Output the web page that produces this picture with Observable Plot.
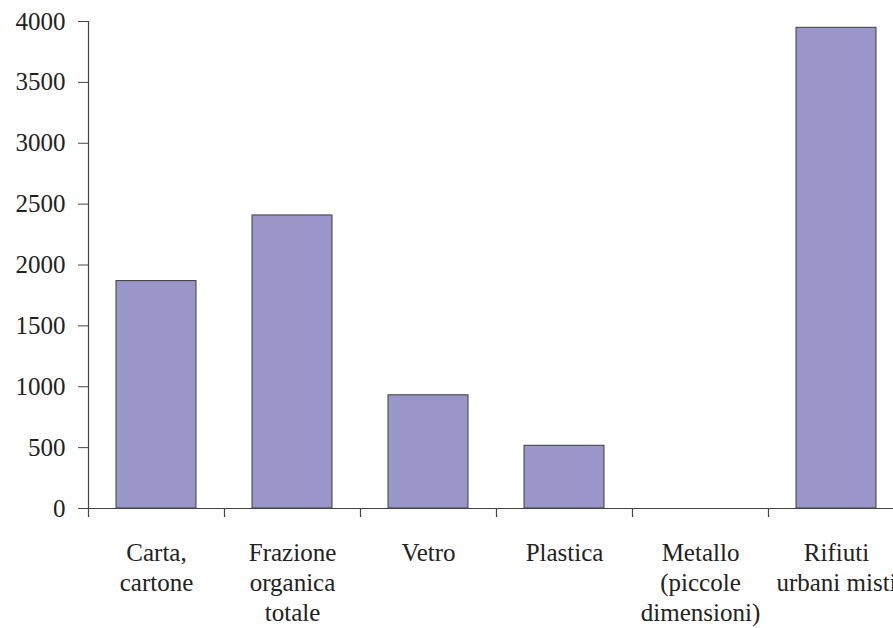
<!DOCTYPE html>
<html>
<head>
<meta charset="utf-8">
<script src="https://cdn.jsdelivr.net/npm/d3@7"></script>
<script src="https://cdn.jsdelivr.net/npm/@observablehq/plot@0.6"></script>
<style>
  html, body { margin: 0; padding: 0; background: #fff; overflow: hidden; }
  #chart svg { display: block; }
</style>
</head>
<body>
<div id="chart"></div>
<script>
const categories = [
  "Carta,\ncartone",
  "Frazione\norganica\ntotale",
  "Vetro",
  "Plastica",
  "Metallo\n(piccole\ndimensioni)",
  "Rifiuti\nurbani misti"
];
const values = [1868, 2407, 930, 515, 0, 3948];
const yTicks = [0, 500, 1000, 1500, 2000, 2500, 3000, 3500, 4000];

const data = categories.map((c, i) => ({category: c, value: values[i]}));

const FONT = "Liberation Serif";
const W = 893, H = 628, ML = 88, MR = -11, MT = 21, MB = 120;
const step = (W - MR - ML) / categories.length;

const chart = Plot.plot({
  width: W,
  height: H,
  marginLeft: ML,
  marginRight: MR,
  marginTop: MT,
  marginBottom: MB,
  style: {fontFamily: FONT, fontSize: "25px", color: "#222", background: "#fff"},
  x: {domain: categories, paddingInner: 0.41, paddingOuter: 0.205, label: null},
  y: {domain: [0, 4000], label: null},
  marks: [
    Plot.barY(data, {x: "category", y: "value", fill: "#9b96c9", stroke: "#3c3c3c", strokeWidth: 1}),
    Plot.ruleY([0], {stroke: "#444", strokeWidth: 1.2}),
    Plot.frame({anchor: "left", stroke: "#444", strokeWidth: 1.2}),
    Plot.ruleX(categories, {x: d => d, y1: 0, y2: 0, insetBottom: -9, dx: -step / 2, stroke: "#444", strokeWidth: 1.2}),
    Plot.axisY({ticks: yTicks, tickSize: 10, tickPadding: 13, tickFormat: d => String(d), stroke: "#444", fill: "#222", fontSize: 25, fontFamily: FONT}),
    Plot.axisX({tickSize: 0, tickPadding: 31, lineHeight: 1.2, fill: "#222", fontSize: 25, fontFamily: FONT, textOverflow: null})
  ]
});
document.getElementById("chart").appendChild(chart);
</script>
</body>
</html>
